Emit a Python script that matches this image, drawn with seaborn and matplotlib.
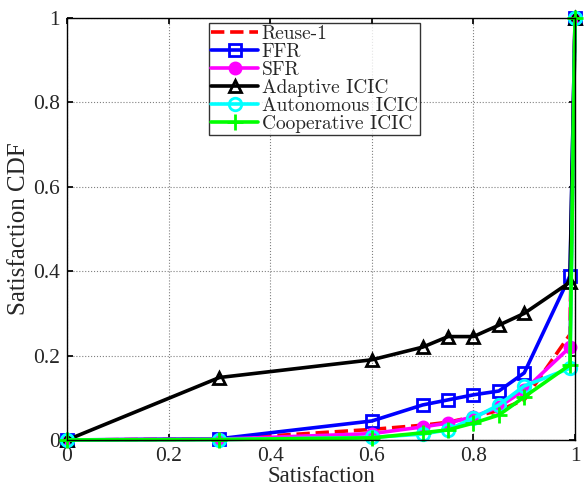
import matplotlib
matplotlib.use("Agg")
import matplotlib.pyplot as plt
import seaborn as sns
import pandas as pd
from matplotlib.font_manager import FontProperties

satisfaction = [0.0, 0.3, 0.6, 0.7, 0.75, 0.8, 0.85, 0.9, 0.99, 1.0]

reuse1 = [0.0, 0.002, 0.025, 0.035, 0.042, 0.055, 0.07, 0.095, 0.25, 1.0]
ffr = [0.0, 0.003, 0.045, 0.083, 0.095, 0.107, 0.116, 0.159, 0.389, 1.0]
sfr = [0.0, 0.002, 0.015, 0.031, 0.04, 0.055, 0.078, 0.118, 0.22, 1.0]
adaptive = [0.0, 0.148, 0.19, 0.22, 0.245, 0.245, 0.272, 0.30, 0.374, 1.0]
autonomous = [0.0, 0.001, 0.006, 0.014, 0.024, 0.052, 0.083, 0.128, 0.17, 1.0]
cooperative = [0.0, 0.001, 0.005, 0.017, 0.024, 0.04, 0.059, 0.102, 0.178, 1.0]

series = [
    ("Reuse-1", reuse1, "red", "--", None),
    ("FFR", ffr, "blue", "-", "s"),
    ("SFR", sfr, "magenta", "-", "o"),
    ("Adaptive ICIC", adaptive, "black", "-", "^"),
    ("Autonomous ICIC", autonomous, "cyan", "-", "o"),
    ("Cooperative ICIC", cooperative, "lime", "-", "+"),
]

sns.set_theme(style="white")
plt.rcParams["font.family"] = ["Liberation Serif", "DejaVu Serif"]

fig = plt.figure(figsize=(5.85, 4.86), dpi=100)
ax = fig.add_axes([0.1145, 0.0947, 0.8685, 0.8683])

for name, vals, color, ls, marker in series:
    df = pd.DataFrame({"Satisfaction": satisfaction, "CDF": vals})
    mfc = "none" if marker in ("s", "^", "o") and name != "SFR" else color
    sns.lineplot(data=df, x="Satisfaction", y="CDF", ax=ax, color=color,
                 linestyle=ls, linewidth=2.6, marker=marker,
                 markersize=(8 if name == "SFR" else 9) if marker != "+" else 11,
                 markerfacecolor=mfc, markeredgecolor=color,
                 markeredgewidth=2, label=name, sort=False, clip_on=False)

ax.set_xlim(0, 1)
ax.set_ylim(0, 1)
ax.set_xticks([0, 0.2, 0.4, 0.6, 0.8, 1.0])
ax.set_xticklabels(["0", "0.2", "0.4", "0.6", "0.8", "1"])
ax.set_yticks([0, 0.2, 0.4, 0.6, 0.8, 1.0])
ax.set_yticklabels(["0", "0.2", "0.4", "0.6", "0.8", "1"])
ax.grid(True, linestyle=":", color="gray", linewidth=0.8)
ax.tick_params(direction="in", length=4, labelsize=15.5, color="black",
               bottom=True, left=True, top=True, right=True, pad=5)
for s in ax.spines.values():
    s.set_color("black")
    s.set_linewidth(1.0)
ax.set_xlabel("Satisfaction", fontsize=16.5, labelpad=0)
ax.set_ylabel("Satisfaction CDF", fontsize=18, labelpad=2)

leg_font = FontProperties(family="cmr10", size=14)
leg = ax.legend(loc="upper left", bbox_to_anchor=(0.28, 0.988), prop=leg_font,
                frameon=True, fancybox=False, edgecolor="black",
                handlelength=2.4, handletextpad=0.2, labelspacing=0.0,
                borderpad=0.1, borderaxespad=0.0)
leg.get_frame().set_linewidth(1.0)

fig.savefig("out.png", dpi=100)
